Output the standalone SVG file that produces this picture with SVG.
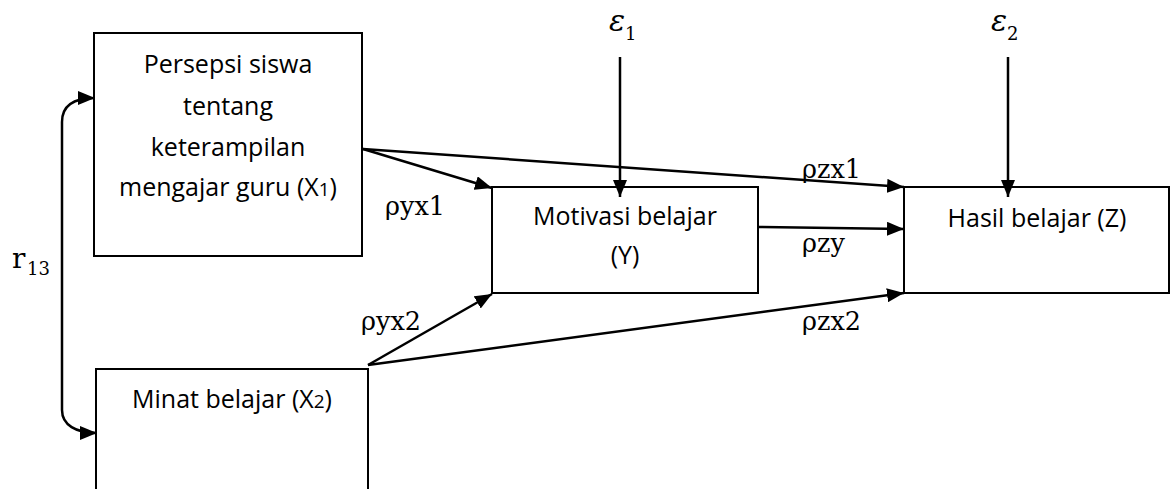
<svg xmlns="http://www.w3.org/2000/svg" width="1170" height="489" viewBox="0 0 1170 489">
  <style>
    .box { fill: #ffffff; stroke: #000000; stroke-width: 2; }
    .lbl { font-family: "Open Sans", "Liberation Sans", sans-serif; font-size: 25px; fill: #000000; text-anchor: middle; }
    .sm { font-size: 19px; }
    .coef { font-family: "DejaVu Serif", "Liberation Serif", serif; font-size: 25.5px; fill: #000000; }
    .math { font-family: "DejaVu Serif", "Liberation Serif", serif; font-style: italic; font-size: 30px; fill: #000000; }
    .sub { font-family: "DejaVu Serif", "Liberation Serif", serif; font-size: 18px; fill: #000000; }
    .conn { fill: none; stroke: #000000; stroke-width: 2.5; }
  </style>
  <defs>
    <marker id="arrow" markerUnits="userSpaceOnUse" markerWidth="18" markerHeight="14" refX="17" refY="7" orient="auto-start-reverse">
      <path d="M0,0 L17,7 L0,14 Z" fill="#000000"/>
    </marker>
  </defs>

  <rect width="1170" height="489" fill="#ffffff"/>

  <!-- X1 -->
  <g id="node-x1">
    <rect class="box" x="94" y="33" width="268" height="223"/>
    <text class="lbl" x="228" y="73">Persepsi siswa</text>
    <text class="lbl" x="228" y="115">tentang</text>
    <text class="lbl" x="228" y="156">keterampilan</text>
    <text class="lbl" x="228" y="196">mengajar guru (X<tspan class="sm">1</tspan>)</text>
  </g>

  <!-- X2 -->
  <g id="node-x2">
    <rect class="box" x="96" y="369" width="272" height="140"/>
    <text class="lbl" x="232" y="408">Minat belajar (X<tspan class="sm">2</tspan>)</text>
  </g>

  <!-- Y -->
  <g id="node-y">
    <rect class="box" x="492" y="187" width="266" height="106"/>
    <text class="lbl" x="625" y="225">Motivasi belajar</text>
    <text class="lbl" x="625" y="264">(Y)</text>
  </g>

  <!-- Z -->
  <g id="node-z">
    <rect class="box" x="904" y="187" width="265" height="106"/>
    <text class="lbl" x="1037" y="227">Hasil belajar (Z)</text>
  </g>

  <!-- error terms -->
  <g id="node-e1">
    <text class="math" x="609" y="31">ε</text>
    <text class="sub" x="625" y="40">1</text>
  </g>
  <g id="node-e2">
    <text class="math" x="991" y="31">ε</text>
    <text class="sub" x="1007" y="40">2</text>
  </g>

  <!-- connectors -->
  <g id="connectors">
    <line class="conn" x1="363" y1="149" x2="492" y2="188" marker-end="url(#arrow)"/>
    <line class="conn" x1="363" y1="149" x2="904" y2="187" marker-end="url(#arrow)"/>
    <line class="conn" x1="758" y1="227" x2="904" y2="229" marker-end="url(#arrow)"/>
    <line class="conn" x1="368" y1="365" x2="492" y2="294" marker-end="url(#arrow)"/>
    <line class="conn" x1="368" y1="365" x2="904" y2="293" marker-end="url(#arrow)"/>
    <line class="conn" x1="620" y1="57" x2="620" y2="197" marker-end="url(#arrow)"/>
    <line class="conn" x1="1008" y1="57" x2="1008" y2="197" marker-end="url(#arrow)"/>
    <path class="conn" d="M95,98 C76,98 62,104 62,122 L62,410 C62,425 76,433 97,433" marker-start="url(#arrow)" marker-end="url(#arrow)"/>
  </g>

  <!-- path coefficients -->
  <g id="coefficients">
    <text class="coef" x="385" y="215">ρyx1</text>
    <text class="coef" x="361" y="330">ρyx2</text>
    <text class="coef" x="802" y="178">ρzx1</text>
    <text class="coef" x="802" y="252">ρzy</text>
    <text class="coef" x="802" y="330">ρzx2</text>
    <text class="coef" style="font-size: 28px" x="12" y="268">r</text>
    <text class="sub" x="27" y="275">13</text>
  </g>
</svg>
